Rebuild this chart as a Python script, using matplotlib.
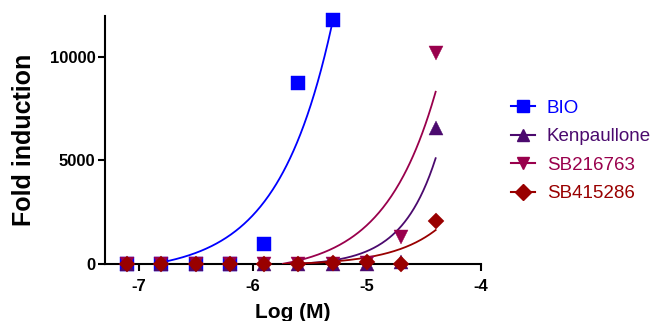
import matplotlib.pyplot as plt
import numpy as np

plt.rcParams['font.family'] = ['Liberation Sans', 'DejaVu Sans']

# 2-fold dilution series, log10 of molar concentration
log_conc = [-7.107, -6.806, -6.505, -6.204, -5.903, -5.602, -5.301, -5.0, -4.699, -4.398]

names = ["BIO", "Kenpaullone", "SB216763", "SB415286"]
bio = [0, 0, 0, 0, 950, 8750, 11800]
kenpaullone = [0, 0, 0, 0, 0, 0, 0, 0, 100, 6550]
sb216763 = [0, 0, 0, 0, 0, 0, 0, 30, 1320, 10200]
sb415286 = [0, 0, 0, 0, 0, 0, 40, 100, 0, 2090]

# exponential fits y = a*exp(k*(x - x_last)) + b
fit_a = [12190, 5200, 8770, 1700]
fit_k = [2.1, 3.3, 2.2, 2.5]
fit_b = [-440, -90, -450, -60]

colors = ['#0000FF', '#4B0A6E', '#99004C', '#990000']
markers = ['s', '^', 'v', 'D']
msizes = [10, 10, 10, 8.5]

fig = plt.figure(figsize=(6.58, 3.21), dpi=100)
ax = fig.add_axes([0.1596, 0.1776, 0.5714, 0.7738])

series = [bio, kenpaullone, sb216763, sb415286]
for i, ys in enumerate(series):
    xs = log_conc[:len(ys)]
    xx = np.linspace(xs[0], xs[-1], 300)
    yy = fit_a[i] * np.exp(fit_k[i] * (xx - xs[-1])) + fit_b[i]
    yy = np.where(yy >= 0, yy, np.nan)
    ax.plot(xx, yy, color=colors[i], lw=1.3, zorder=2 + i)
    ax.plot(xs, ys, ls='none', marker=markers[i], ms=msizes[i], color=colors[i],
            mec=colors[i], mew=0.3, clip_on=False, zorder=6 + i)

# legend proxies: line through marker
handles = []
for i in range(4):
    h, = ax.plot([], [], color=colors[i], lw=1.5, marker=markers[i], ms=msizes[i] * 0.9)
    handles.append(h)
leg = ax.legend(handles, names, loc='center left', bbox_to_anchor=(1.055, 0.455),
                frameon=False, fontsize=13.5, handlelength=1.3, handletextpad=0.6,
                labelspacing=0.6, borderpad=0, labelcolor='linecolor')

ax.set_xlim(-7.3, -4)
ax.set_ylim(0, 12000)
ax.set_xticks([-7, -6, -5, -4])
ax.set_xticklabels(['-7', '-6', '-5', '-4'])
ax.set_yticks([0, 5000, 10000])
for s in ['top', 'right']:
    ax.spines[s].set_visible(False)
for s in ['left', 'bottom']:
    ax.spines[s].set_linewidth(1.5)
ax.tick_params(direction='out', length=5, width=1.5, labelsize=12)
ax.tick_params(axis='x', pad=6)
ax.tick_params(axis='y', pad=2)
for t in ax.get_xticklabels() + ax.get_yticklabels():
    t.set_fontweight('bold')

ax.set_xlabel('Log (M)', fontsize=15, fontweight='bold', labelpad=6)
ax.set_ylabel('Fold induction', fontsize=18, fontweight='bold', labelpad=10)

fig.savefig('out.png', dpi=100)
